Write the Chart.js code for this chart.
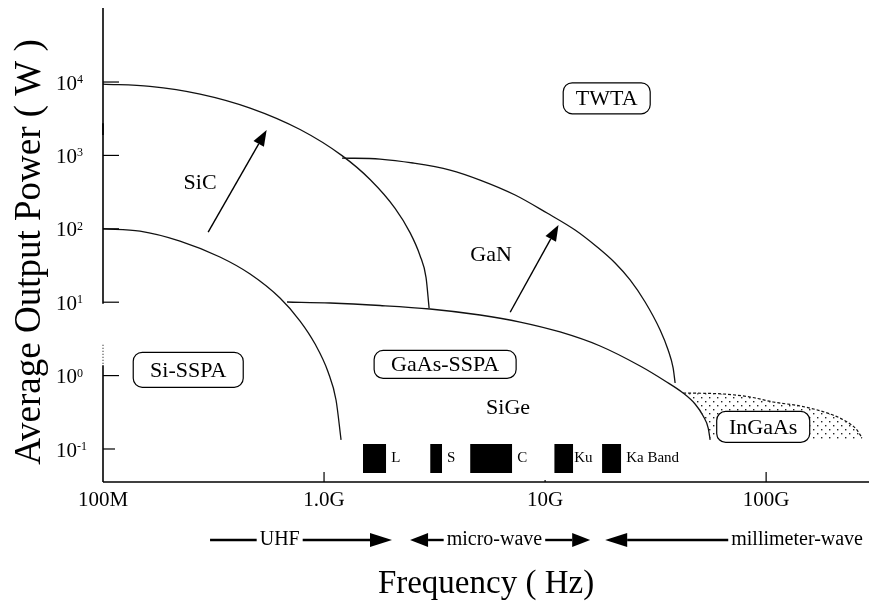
<!DOCTYPE html>
<html>
<head>
<meta charset="utf-8">
<script src="https://cdn.jsdelivr.net/npm/chart.js@4.4.1/dist/chart.umd.min.js"></script>
<style>
  html, body { margin: 0; padding: 0; background: #fff; }
</style>
</head>
<body>
<canvas id="powerChart" width="869" height="605"></canvas>
<script>
// axis ticks
const xTickValues = [1e8, 1e9, 1e10, 1e11];
const xTickLabels = ['100M', '1.0G', '10G', '100G'];
const yTickExps = [-1, 0, 1, 2, 3, 4];

// frequency (Hz) vs average output power (W)
const siFreq = [1e8, 1.47e8, 2.23e8, 3.38e8, 4.63e8, 6.32e8, 7.79e8, 9.11e8, 1.043e9, 1.133e9, 1.194e9];
const siPower = [100, 93.3, 68.2, 41.3, 24.2, 11.4, 5.54, 2.69, 1.12, 0.465, 0.133];

const sicFreq = [1e8, 1.63e8, 2.75e8, 4.63e8, 7.79e8, 1.206e9, 1.615e9, 2.096e9, 2.449e9, 2.719e9, 2.894e9, 2.987e9];
const sicPower = [9390, 8740, 6860, 4420, 2254, 994, 470, 190, 88.8, 43.0, 21.6, 8.34];

const ganFreq = [1.206e9, 1.792e9, 2.527e9, 3.716e9, 5.08e9, 7.32e9, 1.021e10, 1.367e10, 1.72e10, 2.074e10, 2.424e10, 2.835e10, 3.315e10, 3.603e10, 3.795e10, 3.875e10];
const ganPower = [921, 893, 788, 632, 462, 289, 164, 96.3, 56.5, 34.2, 20.1, 10.06, 4.18, 2.23, 1.27, 0.793];

const gaasFreq = [6.8e8, 1.065e9, 1.792e9, 3.017e9, 5.08e9, 7.71e9, 1.169e10, 1.774e10, 2.691e10, 3.49e10, 4.21e10, 4.77e10, 5.19e10, 5.47e10, 5.58e10];
const gaasPower = [10.06, 9.75, 9.02, 8.08, 6.69, 5.37, 3.93, 2.53, 1.35, 0.844, 0.579, 0.41, 0.282, 0.193, 0.133];

const ingaasFreq = [4.21e10, 6.39e10, 8.46e10, 1.076e11, 1.425e11, 1.948e11, 2.326e11, 2.554e11, 2.72e11];
const ingaasPower = [0.579, 0.562, 0.511, 0.437, 0.385, 0.3, 0.233, 0.187, 0.141];
const ingaasFloor = 0.133;

// frequency bands marked along the bottom
const bandNames = ['L', 'S', 'C', 'Ku', 'Ka Band'];
const bandLow = [1.5e9, 3.02e9, 4.58e9, 1.1e10, 1.81e10];
const bandHigh = [1.91e9, 3.42e9, 7.1e9, 1.34e10, 2.21e10];
const bandTop = 0.117;
const bandBottom = 0.047;

// region labels
const noteTexts = ['SiC', 'GaN', 'SiGe'];
const noteFreq = [2.75e8, 5.7e9, 6.8e9];
const notePower = [421, 44, 0.36];

const boxTexts = ['TWTA', 'Si-SSPA', 'GaAs-SSPA', 'InGaAs'];
const boxFreq = [1.9e10, 2.43e8, 3.53e9, 9.7e10];
const boxPower = [6000, 1.2, 1.42, 0.2];
const boxW = [87, 110, 142, 93];
const boxH = [31, 35, 28, 31];

// growth arrows (SiC, GaN)
const arrowFrom = [[2.99e8, 90], [6.95e9, 7.3]];
const arrowTo = [[5.5e8, 2220], [1.15e10, 113]];

// spectrum ranges under the axis
const rangeNames = ['UHF', 'micro-wave', 'millimeter-wave'];
const rangeFrom = [3.05e8, 2.45e9, 1.87e10];
const rangeTo = [2.03e9, 1.6e10, 2.9e11];
const rangeTextAt = [6.3e8, 5.9e9, 1.16e11];

const SERIF = '"Liberation Serif", "Times New Roman", serif';

function pts(xs, ys) {
  return xs.map((v, i) => ({ x: v, y: ys[i] }));
}

function curve(xs, ys) {
  return {
    data: pts(xs, ys),
    showLine: true,
    borderColor: '#111',
    borderWidth: 1.3,
    pointRadius: 0,
    cubicInterpolationMode: 'monotone',
    fill: false
  };
}

const canvas = document.getElementById('powerChart');
const ctx = canvas.getContext('2d');

// stipple for the InGaAs region
const dotCanvas = document.createElement('canvas');
dotCanvas.width = 8;
dotCanvas.height = 8;
const dc = dotCanvas.getContext('2d');
dc.fillStyle = '#222';
dc.fillRect(1, 1, 1.4, 1.4);
dc.fillRect(5, 5, 1.4, 1.4);
const dots = ctx.createPattern(dotCanvas, 'repeat');

const ingaasShape = pts(ingaasFreq, ingaasPower)
  .concat([{ x: ingaasFreq[ingaasFreq.length - 1], y: ingaasFloor }])
  .concat(pts(gaasFreq.slice(10), gaasPower.slice(10)).reverse());

const datasets = [
  {
    data: ingaasShape,
    showLine: true,
    borderWidth: 0,
    pointRadius: 0,
    backgroundColor: dots,
    fill: 'shape',
    tension: 0
  },
  curve(siFreq, siPower),
  curve(sicFreq, sicPower),
  curve(ganFreq, ganPower),
  curve(gaasFreq, gaasPower),
  Object.assign(curve(ingaasFreq, ingaasPower), { borderDash: [3, 2], borderWidth: 1.2 })
];

bandNames.forEach((name, i) => {
  datasets.push({
    data: [{ x: bandLow[i], y: bandTop }, { x: bandHigh[i], y: bandTop }],
    showLine: true,
    borderWidth: 0,
    pointRadius: 0,
    backgroundColor: '#000',
    fill: { value: bandBottom }
  });
});

function arrow(c, x0, y0, x1, y1, len, half) {
  const a = Math.atan2(y1 - y0, x1 - x0);
  const bx = x1 - len * Math.cos(a), by = y1 - len * Math.sin(a);
  c.beginPath();
  c.moveTo(x0, y0);
  c.lineTo(bx, by);
  c.stroke();
  c.beginPath();
  c.moveTo(x1, y1);
  c.lineTo(bx + half * Math.sin(a), by - half * Math.cos(a));
  c.lineTo(bx - half * Math.sin(a), by + half * Math.cos(a));
  c.closePath();
  c.fill();
}

const figure = {
  id: 'figure',
  afterDatasetsDraw(chart) {
    const c = chart.ctx;
    const a = chart.chartArea;
    const x = chart.scales.x, y = chart.scales.y;
    c.save();
    c.strokeStyle = '#000';
    c.fillStyle = '#000';

    // x axis line and inward ticks
    c.lineWidth = 1.6;
    c.beginPath();
    c.moveTo(a.left, a.bottom);
    c.lineTo(chart.width, a.bottom);
    c.stroke();
    c.lineWidth = 1.2;
    const xTickLen = [0, 10, 2, 10];
    xTickValues.forEach((v, i) => {
      const px = x.getPixelForValue(v);
      c.beginPath();
      c.moveTo(px, a.bottom);
      c.lineTo(px, a.bottom - xTickLen[i]);
      c.stroke();
    });

    // y axis line, broken like the original
    const lx = a.left;
    const solid = [[a.top, y.getPixelForValue(1905)], [y.getPixelForValue(2754), y.getPixelForValue(9.5)], [y.getPixelForValue(1.38), a.bottom]];
    c.lineWidth = 1.6;
    solid.forEach(s => {
      c.beginPath();
      c.moveTo(lx, s[0]);
      c.lineTo(lx, s[1]);
      c.stroke();
    });
    c.lineWidth = 1;
    c.setLineDash([1, 2]);
    c.beginPath();
    c.moveTo(lx, y.getPixelForValue(2.63));
    c.lineTo(lx, y.getPixelForValue(1.38));
    c.stroke();
    c.setLineDash([]);

    // y ticks (inward) and labels 10^n
    c.lineWidth = 1.2;
    yTickExps.forEach(e => {
      const py = y.getPixelForValue(Math.pow(10, e));
      c.beginPath();
      c.moveTo(lx, py);
      c.lineTo(lx + (e === -1 ? 12 : 16), py);
      c.stroke();
      c.font = '21px ' + SERIF;
      c.textAlign = 'left';
      c.textBaseline = 'middle';
      c.fillText('10', 56, py + 2);
      const w = c.measureText('10').width;
      c.font = '12px ' + SERIF;
      c.textBaseline = 'alphabetic';
      c.fillText(e < 0 ? '-' + Math.abs(e) : String(e), 56 + w, py + 1);
    });

    // y axis title
    c.save();
    c.translate(30, 252);
    c.rotate(-Math.PI / 2);
    c.font = '37px ' + SERIF;
    c.textAlign = 'center';
    c.textBaseline = 'middle';
    c.fillText('Average Output Power ( W )', 0, 0);
    c.restore();

    // band blocks labels
    c.font = '15px ' + SERIF;
    c.textAlign = 'left';
    c.textBaseline = 'middle';
    bandNames.forEach((n, i) => {
      c.fillText(n, x.getPixelForValue(bandHigh[i]) + (i === 3 ? 1 : 5), y.getPixelForValue(Math.sqrt(bandTop * bandBottom)));
    });

    // plain region labels
    c.font = '22px ' + SERIF;
    c.textAlign = 'center';
    noteTexts.forEach((t, i) => {
      c.fillText(t, x.getPixelForValue(noteFreq[i]), y.getPixelForValue(notePower[i]));
    });

    // boxed labels
    c.lineWidth = 1.2;
    boxTexts.forEach((t, i) => {
      const px = x.getPixelForValue(boxFreq[i]);
      const py = y.getPixelForValue(boxPower[i]);
      c.beginPath();
      c.roundRect(px - boxW[i] / 2, py - boxH[i] / 2, boxW[i], boxH[i], 9);
      c.fillStyle = '#fff';
      c.fill();
      c.stroke();
      c.fillStyle = '#000';
      c.font = '22px ' + SERIF;
      c.fillText(t, px, py + 1);
    });

    // growth arrows
    c.lineWidth = 1.4;
    arrowFrom.forEach((f, i) => {
      arrow(c, x.getPixelForValue(f[0]), y.getPixelForValue(f[1]),
        x.getPixelForValue(arrowTo[i][0]), y.getPixelForValue(arrowTo[i][1]), 16, 6);
    });

    // spectrum ranges row
    const ry = 540;
    c.font = '20px ' + SERIF;
    c.lineWidth = 2.4;
    rangeNames.forEach((n, i) => {
      const x0 = x.getPixelForValue(rangeFrom[i]);
      const x1 = Math.min(x.getPixelForValue(rangeTo[i]), chart.width - 6);
      const tw = c.measureText(n).width;
      let tx = x.getPixelForValue(rangeTextAt[i]);
      if (i === 2) tx = x1 - tw / 2;
      c.fillText(n, tx, ry);
      const l = tx - tw / 2 - 3, r = tx + tw / 2 + 3;
      if (i === 0) {
        c.beginPath(); c.moveTo(x0, ry); c.lineTo(l, ry); c.stroke();
        arrow(c, r, ry, x1, ry, 22, 7);
      } else if (i === 1) {
        arrow(c, l, ry, x0, ry, 18, 7);
        arrow(c, r, ry, x1, ry, 18, 7);
      } else {
        arrow(c, l, ry, x0, ry, 22, 7);
      }
    });
    c.restore();
  }
};

new Chart(ctx, {
  type: 'scatter',
  data: { datasets: datasets },
  options: {
    responsive: false,
    animation: false,
    devicePixelRatio: 1,
    layout: { padding: { top: 8, right: 0, left: 0, bottom: 0 } },
    plugins: { legend: { display: false }, tooltip: { enabled: false } },
    scales: {
      x: {
        type: 'logarithmic',
        min: 1e8,
        max: 2.92e11,
        bounds: 'data',
        grid: { display: false, drawTicks: false },
        border: { display: false },
        afterBuildTicks: s => { s.ticks = xTickValues.map(v => ({ value: v })); },
        afterFit: s => { s.height = 123; },
        ticks: {
          autoSkip: false,
          maxRotation: 0,
          padding: 6,
          color: '#000',
          font: { family: SERIF, size: 21 },
          callback: v => xTickLabels[xTickValues.indexOf(v)]
        },
        title: {
          display: true,
          text: 'Frequency ( Hz)',
          color: '#000',
          font: { family: SERIF, size: 33 },
          padding: { top: 0, bottom: 1 }
        }
      },
      y: {
        type: 'logarithmic',
        min: 0.0355,
        max: 1.02e5,
        bounds: 'data',
        grid: { display: false, drawTicks: false },
        border: { display: false },
        afterBuildTicks: s => { s.ticks = yTickExps.map(e => ({ value: Math.pow(10, e) })); },
        afterFit: s => { s.width = 103; },
        ticks: { display: false },
        title: { display: false }
      }
    }
  },
  plugins: [figure]
});
</script>
</body>
</html>
